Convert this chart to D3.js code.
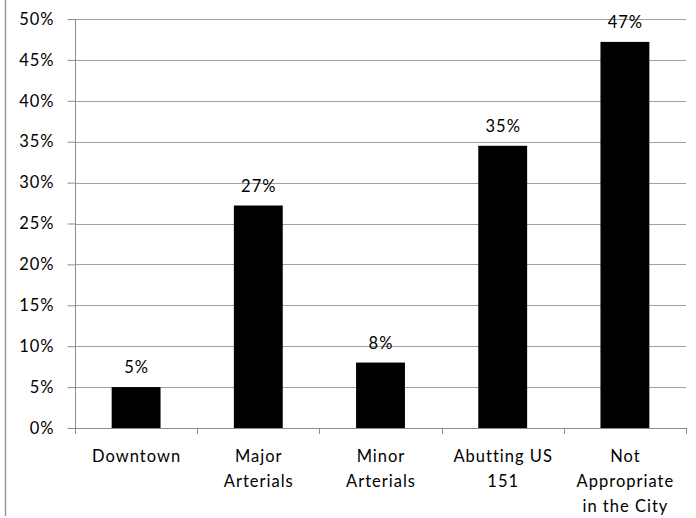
<!DOCTYPE html>
<html>
<head>
<meta charset="utf-8">
<script src="https://cdn.jsdelivr.net/npm/d3@7"></script>
<style>
  body { margin: 0; background: #fff; }
  text { font-family: Lato, "Liberation Sans", sans-serif; fill: #000; }
</style>
</head>
<body>
<script type="text/javascript">
    const Width = 696;
    const Height = 518;

    // data
    const categories = ["Downtown", "Major Arterials", "Minor Arterials", "Abutting US 151", "Not Appropriate in the City"];
    const labelLines = [["Downtown"], ["Major", "Arterials"], ["Minor", "Arterials"], ["Abutting US", "151"], ["Not", "Appropriate", "in the City"]];
    const values = [0.05, 0.272, 0.08, 0.345, 0.472];
    const valueLabels = ["5%", "27%", "8%", "35%", "47%"];
    const yTicks = [0, 0.05, 0.10, 0.15, 0.20, 0.25, 0.30, 0.35, 0.40, 0.45, 0.50];

    const mLeft = 75, mRight = 686, mTop = 19, mBottom = 428;
    const fs = "16.5px";
    const ls = 1; // letter spacing, the original font runs wide

    const svg = d3.select("body")
      .append("svg")
      .attr("width", Width)
      .attr("height", Height);

    // thin frame line on the far left
    svg.append("line")
      .attr("x1", 5.5).attr("x2", 5.5)
      .attr("y1", 0).attr("y2", 516)
      .attr("stroke", "#9a9a9a")
      .attr("stroke-width", 1.5);

    const x = d3.scaleBand()
      .domain(categories)
      .range([mLeft, mRight])
      .paddingInner(0.6)
      .paddingOuter(0.3);

    const y = d3.scaleLinear()
      .domain([0, 0.5])
      .range([mBottom, mTop]);

    // gridlines
    svg.selectAll("line.grid")
      .data(yTicks.slice(1))
      .enter()
      .append("line")
      .attr("class", "grid")
      .attr("x1", mLeft)
      .attr("x2", mRight)
      .attr("y1", d => Math.round(y(d)) + 0.5)
      .attr("y2", d => Math.round(y(d)) + 0.5)
      .attr("stroke", "#a0a0a0")
      .attr("stroke-width", 1);

    // y axis
    const yAxis = svg.append("g")
      .attr("transform", "translate(" + (mLeft + 0.5) + ",0)")
      .call(d3.axisLeft(y).tickValues(yTicks).tickFormat(d3.format(".0%")).tickSize(8).tickPadding(13));
    yAxis.selectAll("line, path").attr("stroke", "#8c8c8c");
    yAxis.select("path").attr("d", "M0," + mTop + "V" + mBottom);
    yAxis.selectAll("text")
      .style("font-size", fs)
      .style("font-family", "Lato, sans-serif")
      .style("letter-spacing", ls + "px");

    // x axis baseline + category ticks
    const bounds = d3.range(categories.length + 1).map(i => mLeft + i * (mRight - mLeft) / categories.length);
    svg.append("line")
      .attr("x1", mLeft).attr("x2", mRight)
      .attr("y1", mBottom + 0.5).attr("y2", mBottom + 0.5)
      .attr("stroke", "#8c8c8c");
    svg.selectAll("line.xtick")
      .data(bounds)
      .enter()
      .append("line")
      .attr("class", "xtick")
      .attr("x1", d => Math.round(d) + 0.5)
      .attr("x2", d => Math.round(d) + 0.5)
      .attr("y1", mBottom)
      .attr("y2", mBottom + 6)
      .attr("stroke", "#8c8c8c");

    // bars
    svg.selectAll("rect.bar")
      .data(values)
      .enter()
      .append("rect")
      .attr("class", "bar")
      .attr("x", (d, i) => x(categories[i]))
      .attr("width", x.bandwidth())
      .attr("y", d => y(d))
      .attr("height", d => mBottom - y(d))
      .attr("fill", "#000");

    // value labels
    svg.selectAll("text.val")
      .data(values)
      .enter()
      .append("text")
      .attr("class", "val")
      .attr("x", (d, i) => x(categories[i]) + x.bandwidth() / 2 + ls / 2)
      .attr("y", d => y(d) - 14)
      .attr("text-anchor", "middle")
      .style("font-size", fs)
      .style("letter-spacing", ls + "px")
      .text((d, i) => valueLabels[i]);

    // category labels
    const cat = svg.selectAll("text.cat")
      .data(labelLines)
      .enter()
      .append("text")
      .attr("class", "cat")
      .attr("text-anchor", "middle")
      .style("font-size", fs)
      .style("letter-spacing", ls + "px");
    cat.each(function (lines, i) {
      const t = d3.select(this);
      lines.forEach((s, j) => {
        t.append("tspan")
          .attr("x", x(categories[i]) + x.bandwidth() / 2 + ls / 2)
          .attr("y", 462 + j * 25)
          .text(s);
      });
    });
</script>
</body>
</html>
